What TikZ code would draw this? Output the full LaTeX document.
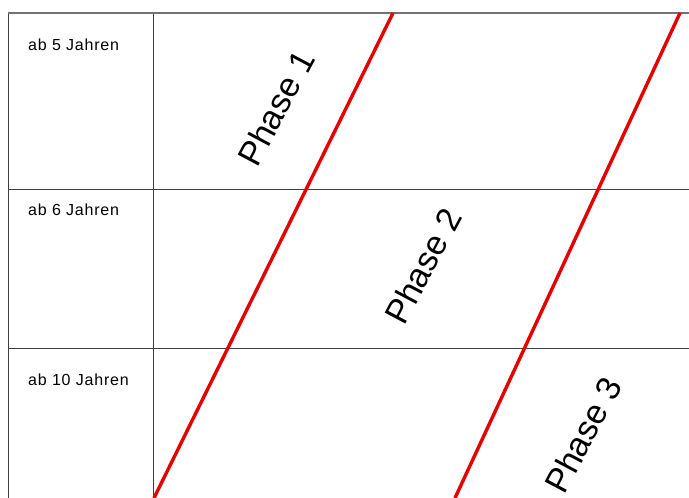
\documentclass[tikz,border=0pt]{standalone}
\usepackage{fontspec}
\setmainfont{Liberation Sans}
\begin{document}
\begin{tikzpicture}[x=1pt,y=-1pt,
  gridline/.style={draw=black!75,line width=1pt},
  topline/.style={draw=black!55,line width=1.6pt},
  phaseline/.style={draw=red!90!black,line width=3.4pt},
  agelabel/.style={anchor=base west,inner sep=0pt,font=\addfontfeature{LetterSpace=5}\fontsize{16}{18}\selectfont},
  phaselabel/.style={rotate=62,inner sep=0pt,font=\fontsize{34}{36}\selectfont}]
\useasboundingbox (0,0) rectangle (689,498);
\fill[white] (0,0) rectangle (689,498);
% grid coordinates
\coordinate (tl) at (8,13);
\coordinate (tr) at (689,13);
\coordinate (bl) at (8,498);
\coordinate (ct) at (153,13);
\coordinate (cb) at (153,498);
\coordinate (r1l) at (8,189);
\coordinate (r1r) at (689,189);
\coordinate (r2l) at (8,348);
\coordinate (r2r) at (689,348);
\draw[gridline] (tl) -- (bl);
\draw[gridline] (ct) -- (cb);
\draw[gridline] (r1l) -- (r1r);
\draw[gridline] (r2l) -- (r2r);
\draw[topline] (tl) -- (tr);
% red phase boundaries
\coordinate (p1t) at (393,13);
\coordinate (p1b) at (154,498);
\coordinate (p2t) at (680,13);
\coordinate (p2b) at (455,498);
\draw[phaseline] (p1t) -- (p1b);
\draw[phaseline] (p2t) -- (p2b);
% labels
\node[agelabel] (a5) at (28,50) {ab 5 Jahren};
\node[agelabel] (a6) at (28,215) {ab 6 Jahren};
\node[agelabel] (a10) at (28,385) {ab 10 Jahren};
\node[phaselabel] (ph1) at (276,108) {Phase 1};
\node[phaselabel] (ph2) at (423,266) {Phase 2};
\node[phaselabel] (ph3) at (583,435) {Phase 3};
\end{tikzpicture}
\end{document}
